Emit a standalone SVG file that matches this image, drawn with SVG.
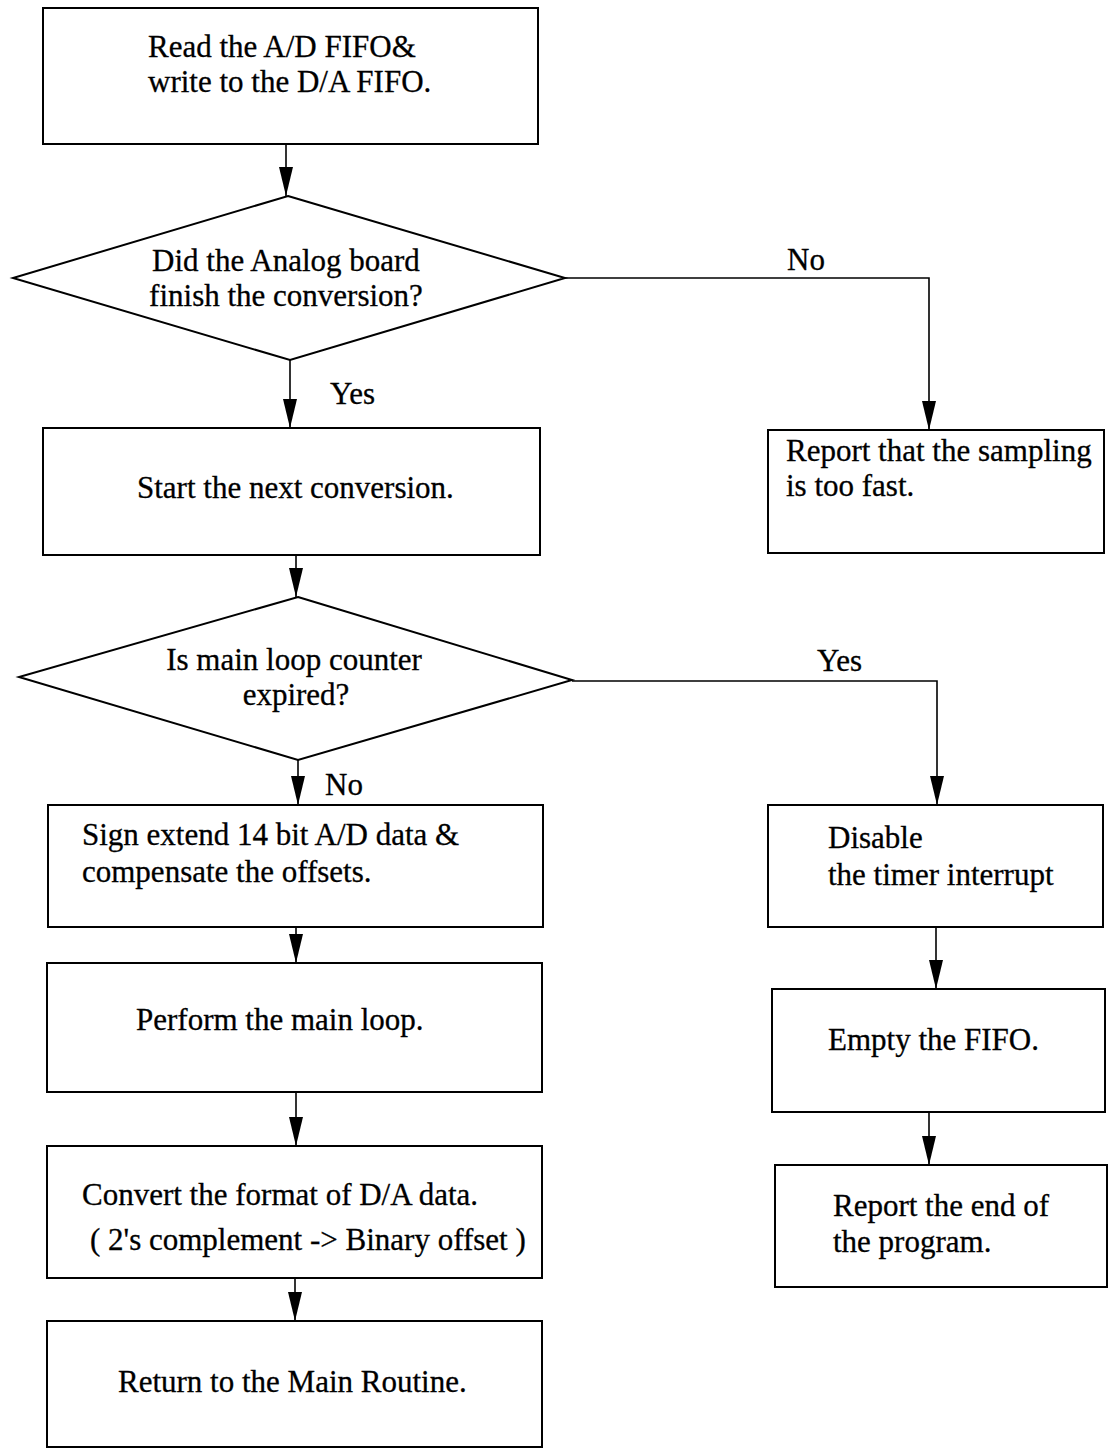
<svg xmlns="http://www.w3.org/2000/svg" width="1108" height="1450" viewBox="0 0 1108 1450">
  <style>
    .box { fill: #ffffff; stroke: #000000; stroke-width: 2; }
    .dia { fill: #ffffff; stroke: #000000; stroke-width: 2; stroke-linejoin: miter; }
    .wire { fill: none; stroke: #000000; stroke-width: 1.6; }
    text { font-family: "Liberation Serif", "Times New Roman", serif; font-size: 31px; fill: #000000; stroke: #000000; stroke-width: 0.3; }
  </style>
  <defs>
    <!-- filled arrowhead, tip at the end of the path -->
    <marker id="head" markerUnits="userSpaceOnUse" markerWidth="30" markerHeight="16" viewBox="0 0 30 16" refX="29" refY="8" orient="auto">
      <polygon points="0,1 29,8 0,15" fill="#000000"/>
    </marker>
  </defs>
  <rect width="1108" height="1450" fill="#ffffff"/>

  <!-- processing steps, main column -->
  <g id="read-fifo">
    <rect class="box" x="43" y="8" width="495" height="136"/>
    <text x="148" y="57">Read the A/D FIFO&amp;</text>
    <text x="148" y="92">write to the D/A FIFO.</text>
  </g>

  <g id="conversion-done">
    <polygon class="dia" points="288,196 565,278 290,360 13,278"/>
    <text x="286" y="271" text-anchor="middle">Did the Analog board</text>
    <text x="286" y="306" text-anchor="middle">finish the conversion?</text>
  </g>

  <g id="start-next">
    <rect class="box" x="43" y="428" width="497" height="127"/>
    <text x="137" y="498">Start the next conversion.</text>
  </g>

  <g id="too-fast">
    <rect class="box" x="768" y="430" width="336" height="123"/>
    <text x="786" y="461">Report that the sampling</text>
    <text x="786" y="496">is too fast.</text>
  </g>

  <g id="counter-expired">
    <polygon class="dia" points="298,597 572,680 298,760 19,677"/>
    <text x="294" y="670" text-anchor="middle">Is main loop counter</text>
    <text x="296" y="705" text-anchor="middle">expired?</text>
  </g>

  <g id="sign-extend">
    <rect class="box" x="48" y="805" width="495" height="122"/>
    <text x="82" y="845">Sign extend 14 bit A/D data &amp;</text>
    <text x="82" y="882">compensate the offsets.</text>
  </g>

  <g id="main-loop">
    <rect class="box" x="47" y="963" width="495" height="129"/>
    <text x="136" y="1030">Perform the main loop.</text>
  </g>

  <g id="convert-format">
    <rect class="box" x="47" y="1146" width="495" height="132"/>
    <text x="82" y="1205">Convert the format of D/A data.</text>
    <text x="90" y="1250">( 2's complement -&gt; Binary offset )</text>
  </g>

  <g id="return-main">
    <rect class="box" x="47" y="1321" width="495" height="126"/>
    <text x="118" y="1392">Return to the Main Routine.</text>
  </g>

  <!-- shutdown branch, right column -->
  <g id="disable-timer">
    <rect class="box" x="768" y="805" width="335" height="122"/>
    <text x="828" y="848">Disable</text>
    <text x="828" y="885">the timer interrupt</text>
  </g>

  <g id="empty-fifo">
    <rect class="box" x="772" y="989" width="333" height="123"/>
    <text x="828" y="1050">Empty the FIFO.</text>
  </g>

  <g id="report-end">
    <rect class="box" x="775" y="1165" width="332" height="122"/>
    <text x="833" y="1216">Report the end of</text>
    <text x="833" y="1252">the program.</text>
  </g>

  <!-- connectors -->
  <g id="connectors">
    <path class="wire" d="M286,144 V196" marker-end="url(#head)"/>
    <path class="wire" d="M290,360 V428" marker-end="url(#head)"/>
    <path class="wire" d="M565,278 H929 V430" marker-end="url(#head)"/>
    <path class="wire" d="M296,555 V597" marker-end="url(#head)"/>
    <path class="wire" d="M572,681 H937 V805" marker-end="url(#head)"/>
    <path class="wire" d="M298,760 V805" marker-end="url(#head)"/>
    <path class="wire" d="M296,927 V963" marker-end="url(#head)"/>
    <path class="wire" d="M296,1092 V1146" marker-end="url(#head)"/>
    <path class="wire" d="M295,1278 V1321" marker-end="url(#head)"/>
    <path class="wire" d="M936,927 V989" marker-end="url(#head)"/>
    <path class="wire" d="M929,1112 V1165" marker-end="url(#head)"/>
  </g>

  <!-- branch labels -->
  <g id="labels">
    <text x="787" y="270">No</text>
    <text x="330" y="404">Yes</text>
    <text x="817" y="671">Yes</text>
    <text x="325" y="795">No</text>
  </g>
</svg>
